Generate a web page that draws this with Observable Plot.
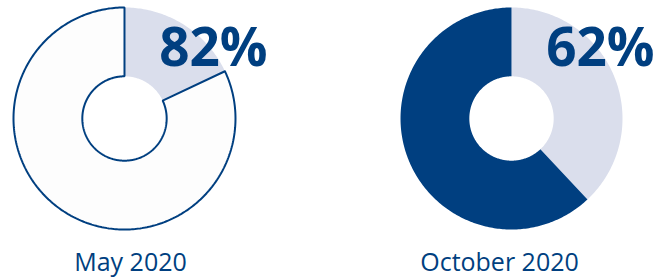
<!DOCTYPE html>
<html>
<head>
<meta charset="utf-8">
<script src="https://cdn.jsdelivr.net/npm/d3@7"></script>
<script src="https://cdn.jsdelivr.net/npm/@observablehq/plot@0.6"></script>
<style>
  html, body { margin: 0; padding: 0; background: #ffffff; }
</style>
</head>
<body>
<div id="chart"></div>
<script>
// ---- data ----
const periods = ["May 2020", "October 2020"];
const shares = [82, 62];             // highlighted share (%)
const shareLabels = ["82%", "62%"];

// ---- styles ----
const DARK = "#003f80";
const LIGHT = "#dadeec";
const sliceStyle = {
  "May 2020":     {rest: {fill: LIGHT, stroke: "none"}, share: {fill: "#fdfdfd", stroke: DARK}},
  "October 2020": {rest: {fill: LIGHT, stroke: "none"}, share: {fill: DARK, stroke: "none"}}
};
const labelDx = {"May 2020": 6, "October 2020": -12};
const INNER = 0.38; // inner radius relative to outer

// build slice polygons (clockwise from 12 o'clock; rest first, then share)
const rows = [];
periods.forEach((p, i) => {
  const slices = [
    {part: "rest", value: 100 - shares[i]},
    {part: "share", value: shares[i]}
  ];
  let start = 0;
  slices.forEach(s => {
    const a0 = start / 100 * 2 * Math.PI;
    const a1 = (start + s.value) / 100 * 2 * Math.PI;
    const id = p + "|" + s.part;
    const st = sliceStyle[p][s.part];
    const pts = [];
    const n = Math.max(4, Math.ceil(s.value * 4));
    for (let k = 0; k <= n; k++) {
      const a = a0 + (a1 - a0) * k / n;
      pts.push([Math.sin(a), Math.cos(a)]);
    }
    for (let k = n; k >= 0; k--) {
      const a = a0 + (a1 - a0) * k / n;
      pts.push([INNER * Math.sin(a), INNER * Math.cos(a)]);
    }
    pts.push(pts[0]);
    pts.forEach(([x, y]) => rows.push({period: p, id, part: s.part, x, y, fill: st.fill, stroke: st.stroke}));
    start += s.value;
  });
});

const labelRows = periods.map((p, i) => ({period: p, label: shareLabels[i]}));

const chart = Plot.plot({
  width: 662,
  height: 279,
  marginLeft: 13,
  marginRight: 40,
  marginTop: 7,
  marginBottom: 50,
  style: {fontFamily: "'Open Sans', sans-serif", background: "#ffffff", color: DARK, overflow: "visible"},
  fx: {domain: periods, paddingInner: 0.4264, paddingOuter: 0, axis: null, round: false},
  x: {domain: [-1, 1], axis: null},
  y: {domain: [-1, 1], axis: null},
  marks: [
    Plot.line(rows.filter(d => d.part === "rest"), {
      x: "x", y: "y", z: "id", fx: "period",
      fill: "fill", stroke: "stroke", curve: "linear"
    }),
    Plot.line(rows.filter(d => d.part === "share"), {
      x: "x", y: "y", z: "id", fx: "period",
      fill: "fill", stroke: "stroke", strokeWidth: 2, curve: "linear", strokeLinejoin: "miter"
    }),
    Plot.text(labelRows, {
      fx: "period", text: "label",
      frameAnchor: "top-right", textAnchor: "end", lineAnchor: "bottom",
      dx: 32, dy: 58, fontSize: 53, fontWeight: 700, fill: DARK
    }),
    ...periods.map(p => Plot.text(labelRows.filter(d => d.period === p), {
      fx: "period", text: "period",
      frameAnchor: "bottom", lineAnchor: "top",
      dx: labelDx[p], dy: 24, fontSize: 25, fill: DARK
    }))
  ]
});

document.getElementById("chart").appendChild(chart);
</script>
</body>
</html>
